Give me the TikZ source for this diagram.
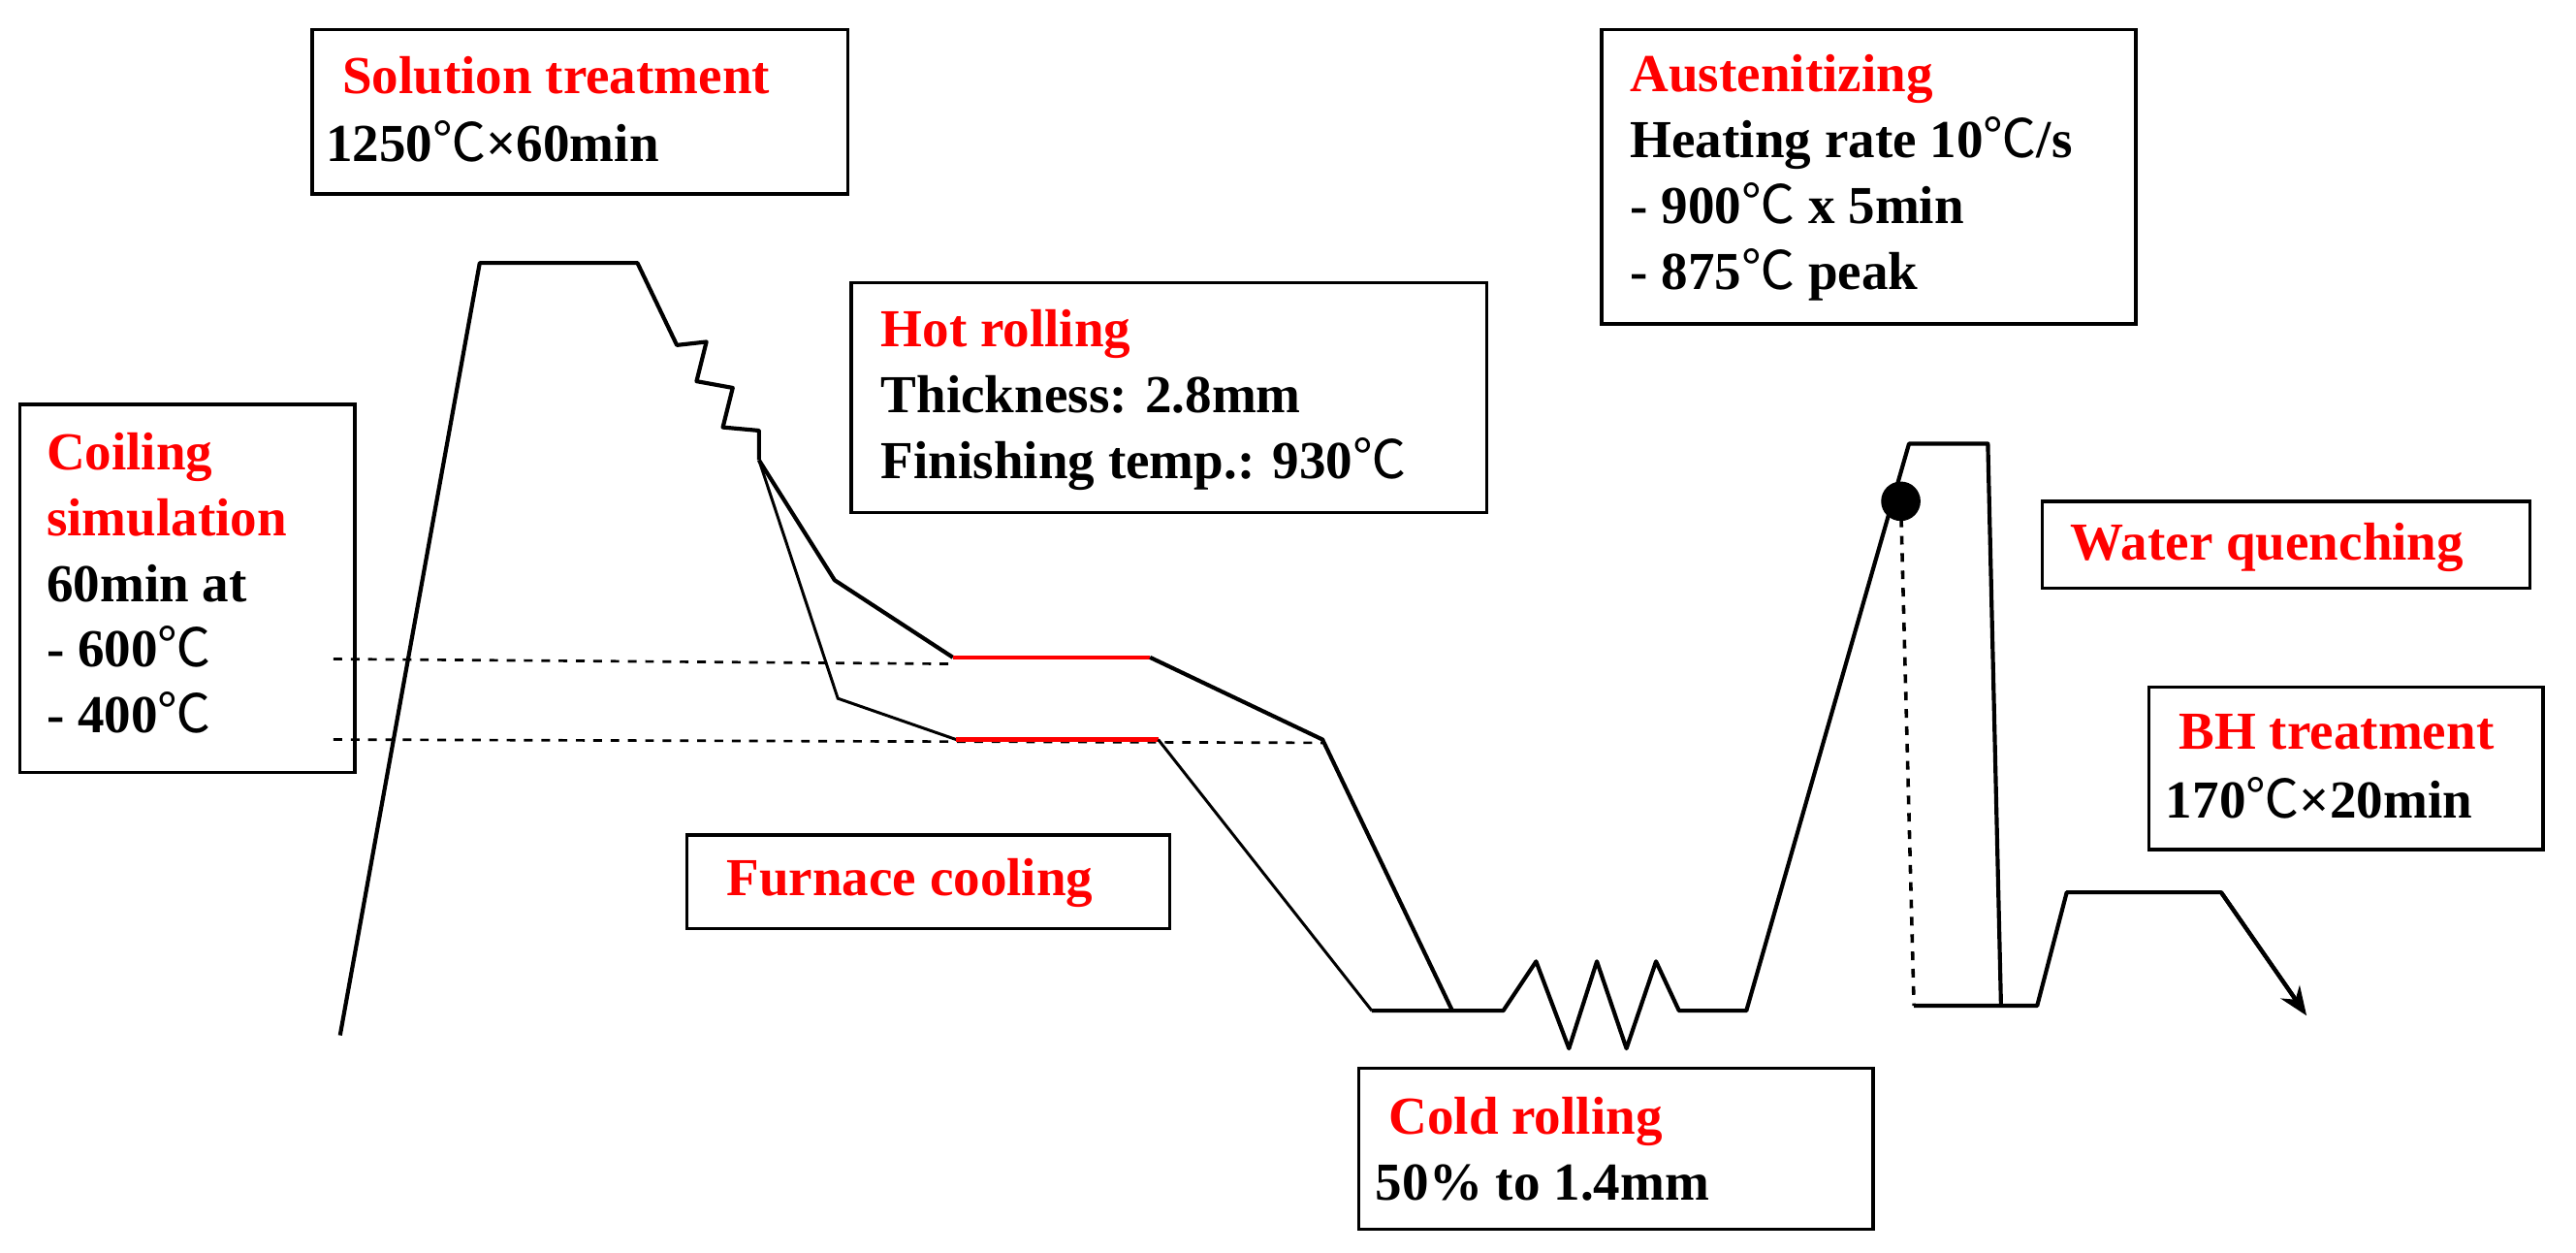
\documentclass[tikz,border=0pt]{standalone}
\usepackage{fontspec}
\setmainfont{Liberation Serif}
\newfontfamily\cjkf{Noto Sans CJK SC}
\newcommand{\dgc}{{\cjkf\mdseries ℃}}
\usetikzlibrary{arrows.meta}
\begin{document}
\begin{tikzpicture}[x=0.02cm,y=-0.02cm,
 box/.style={draw,line width=1.2pt},
 t/.style={anchor=base west,inner sep=0,font=\fontsize{18.5}{20}\selectfont\bfseries},
 r/.style={t,text=red},
 ln/.style={line width=1.4pt,line join=round},
 dsh/.style={dashed,line width=0.9pt}]
\useasboundingbox (0,0) rectangle (1568,762);
% boxes
\draw[box] (190,18) rectangle (516,118);
\node[r] (s1) at (208,57) {Solution treatment};
\node[t] (s2) at (198,98) {1250\dgc×60min};
\draw[box] (975,18) rectangle (1300,197);
\node[r] (a1) at (992,56) {Austenitizing};
\node[t] (a2) at (992,96) {Heating rate 10\dgc/s};
\node[t] (a3) at (992,136) {- 900\dgc{} x 5min};
\node[t] (a4) at (992,176) {- 875\dgc{} peak};
\draw[box] (518,172) rectangle (905,312);
\node[r] (h1) at (536,211) {Hot rolling};
\node[t] (h2) at (536,251) {Thickness: 2.8mm};
\node[t] (h3) at (536,291) {Finishing temp.: 930\dgc};
\draw[box] (12,246) rectangle (216,470);
\node[r] (c1) at (28,286) {Coiling};
\node[r] (c2) at (28,326) {simulation};
\node[t] (c3) at (28,366) {60min at};
\node[t] (c4) at (28,406) {- 600\dgc};
\node[t] (c5) at (28,446) {- 400\dgc};
\draw[box] (1243,305) rectangle (1540,358);
\node[r] (w) at (1260,341) {Water quenching};
\draw[box] (1308,418) rectangle (1548,517);
\node[r] (b1) at (1326,456) {BH treatment};
\node[t] (b2) at (1318,498) {170\dgc×20min};
\draw[box] (418,508) rectangle (712,565);
\node[r] (f) at (442,545) {Furnace cooling};
\draw[box] (827,650) rectangle (1140,748);
\node[r] (cr1) at (845,690) {Cold rolling};
\node[t] (cr2) at (837,730) {50\% to 1.4mm};
% dashed
\coordinate (d1) at (203,401); \coordinate (d1e) at (580,404);
\coordinate (d2) at (203,450); \coordinate (d2e) at (805,452);
\draw[dsh] (d1) -- (d1e);
\draw[dsh] (d2) -- (d2e);
% curves
\draw[ln] (207,630) -- (292,160) -- (388,160) -- (412,210) -- (430,208) -- (424,232) -- (446,236) -- (440,260) -- (462,262) -- (462,280) coordinate (split);
\draw[ln] (split) -- (508,353) -- (580,400);
\draw[ln,red] (580,400) -- (700,400);
\draw[ln] (700,400) -- (805,450) -- (884,615);
\draw[line width=1pt] (split) -- (510,425) -- (582,450);
\draw[ln,red] (582,450) -- (705,450);
\draw[line width=1pt] (705,450) -- (835,615);
\draw[ln] (835,615) -- (915,615) -- (935,585) -- (955,638) -- (972,585) -- (990,638) -- (1008,585) -- (1022,615) -- (1063,615) -- (1162,270) -- (1210,270) -- (1218,612);
\draw[ln] (1165,612) -- (1240,612) -- (1258,543) -- (1352,543) -- (1400,612);
\draw[ln,-{Stealth[length=10pt,width=8pt]}] (1352,543) -- (1404,618);
\draw[dsh,line width=1.2pt] (1157,305) -- (1165,612);
\fill (1157,305) circle (12);
\end{tikzpicture}
\end{document}
